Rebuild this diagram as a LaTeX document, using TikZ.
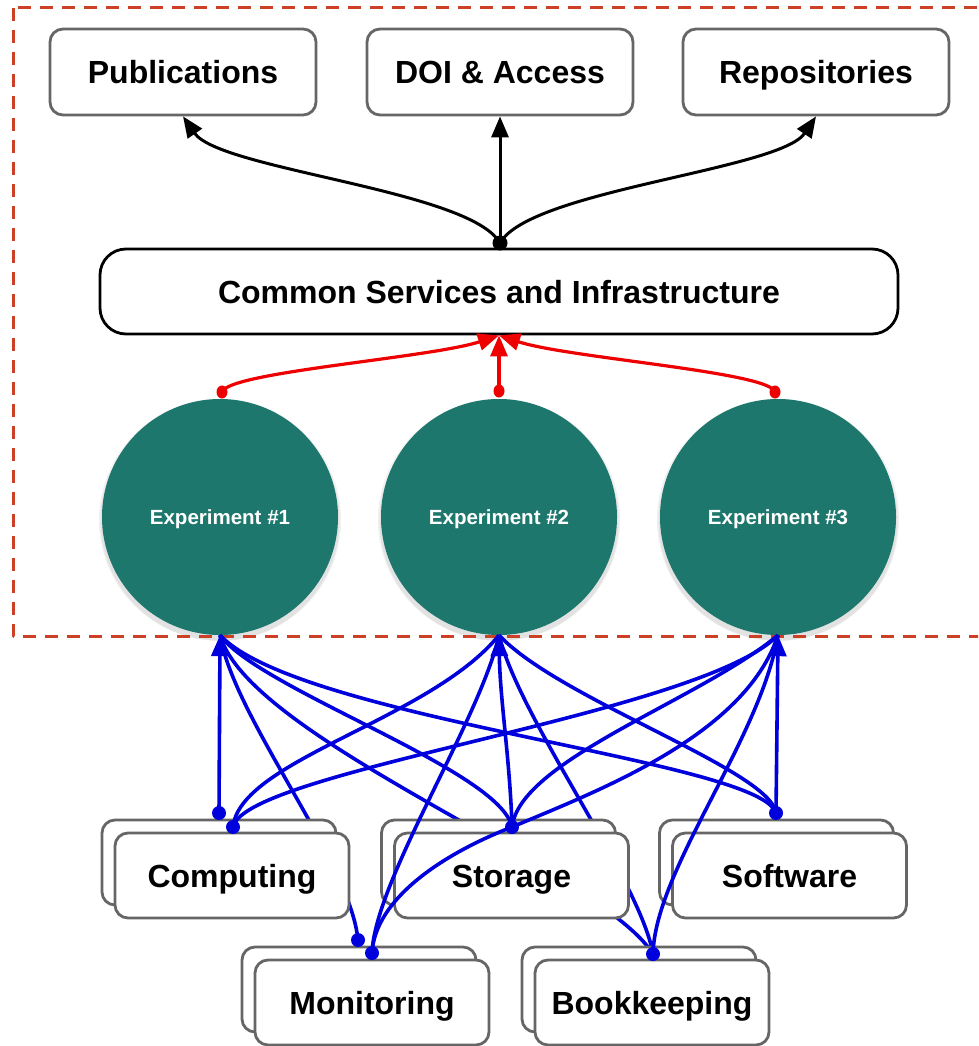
\documentclass[tikz,border=0pt]{standalone}
\usepackage{fontspec}
\setsansfont{Liberation Sans}
\usetikzlibrary{arrows.meta}
\definecolor{framered}{HTML}{CC4125}
\definecolor{boxgray}{HTML}{666666}
\definecolor{expteal}{HTML}{1E776D}
\definecolor{linkblue}{HTML}{0000DD}
\definecolor{linkred}{HTML}{EE0000}
\tikzset{
  outbox/.style={draw=boxgray, line width=2.8pt, rounded corners=13pt, fill=white,
    minimum width=266pt, minimum height=86pt, inner sep=0pt, text height=23pt, text depth=0pt,
    font=\sffamily\bfseries\fontsize{32}{38}\selectfont},
  unitbox/.style={outbox, minimum width=234pt, minimum height=85pt},
  corebox/.style={outbox, draw=black, rounded corners=26pt, minimum width=798pt, minimum height=85pt},
  expnode/.style={circle, fill=expteal, minimum size=236pt, inner sep=0pt, text=white,
    text height=15pt, text depth=0pt, font=\sffamily\bfseries\fontsize{20.5}{24}\selectfont},
  blueline/.style={draw=linkblue, line width=3.6pt},
  redline/.style={draw=linkred, line width=3.2pt},
  blackline/.style={draw=black, line width=3pt}
}
\begin{document}
\begin{tikzpicture}[x=1pt,y=-1pt,line join=round,>={Triangle[length=21pt,width=17pt]}]
\useasboundingbox (0,0) rectangle (978,1046);
\clip (0,0) rectangle (978,1046);

\foreach \nm/\x/\txt in {exp1/220/Experiment \#1, exp2/499/Experiment \#2, exp3/778/Experiment \#3}
{
\fill[black, opacity=0.06] (\x,520) circle (121pt);
\fill[black, opacity=0.06] (\x,521) circle (119.5pt);
\node[expnode] (\nm) at (\x,517) {\txt};
}
\draw[framered, line width=3pt, dash pattern=on 13pt off 9pt] (13,8) rectangle (1000,636);

\node[outbox] (pub) at (183,72) {Publications};
\node[outbox] (doi) at (500,72) {DOI \& Access};
\node[outbox] (repo) at (816,72) {Repositories};
\node[corebox] (common) at (499,291.5) {Common Services and Infrastructure};

\coordinate (hub) at (500,243);
\draw[blackline,->] (hub) .. controls (470,190) and (220,170) .. (pub.south);
\draw[blackline,->] (hub) -- (doi.south);
\draw[blackline,->] (hub) .. controls (530,190) and (780,170) .. (repo.south);
\fill (hub) circle (7.5pt);

\coordinate (r1) at (222,392);
\coordinate (r2) at (499,391);
\coordinate (r3) at (775,392);
\draw[redline,->] (r1) .. controls (228,372) and (430,358) .. (common.south);
\draw[redline,->] (r2) -- (common.south);
\draw[redline,->] (r3) .. controls (770,372) and (568,358) .. (common.south);
\foreach \p in {r1,r2,r3}
\fill[linkred] (\p) ellipse (5.5pt and 6.5pt);

\coordinate (c1) at (219,813);
\coordinate (c2) at (233,827);
\coordinate (st) at (512,827);
\coordinate (sw) at (776,813);
\coordinate (m1) at (358,940);
\coordinate (m2) at (372,953);
\coordinate (bk) at (653,954);

\draw[blueline] (m1) .. controls (350,860) and (235,720) .. (exp1.south);
\draw[blueline] (bk) .. controls (600,870) and (250,740) .. (exp1.south);
\draw[blueline] (bk) .. controls (640,880) and (520,720) .. (exp2.south);

\foreach \nm/\x/\y/\txt in {comp/232/875.5/Computing, stor/511.5/875.5/Storage, soft/789.5/875.5/Software, moni/372/1002.5/Monitoring, book/652/1002.5/Bookkeeping}
{
\node[unitbox] (\nm back) at (\x-13,\y-13) {};
\node[unitbox] (\nm) at (\x,\y) {\txt};
}

\draw[blueline,->] (c1) -- (exp1.south);
\draw[blueline] (c2) .. controls (240,760) and (430,720) .. (exp2.south);
\draw[blueline] (c2) .. controls (245,770) and (700,715) .. (exp3.south);
\draw[blueline] (st) .. controls (500,770) and (260,690) .. (exp1.south);
\draw[blueline,->] (st) .. controls (510,760) and (500,700) .. (exp2.south);
\draw[blueline] (st) .. controls (520,760) and (700,700) .. (exp3.south);
\draw[blueline] (sw) .. controls (760,760) and (300,720) .. (exp1.south);
\draw[blueline] (sw) .. controls (770,770) and (560,700) .. (exp2.south);
\draw[blueline,->] (sw) -- (exp3.south);
\draw[blueline] (m2) .. controls (375,880) and (480,720) .. (exp2.south);
\draw[blueline] (m2) .. controls (375,900) and (440,855) .. (st) .. controls (600,790) and (745,735) .. (exp3.south);
\draw[blueline] (bk) .. controls (655,870) and (760,740) .. (exp3.south);
\foreach \p in {c1,c2,st,sw,m1,m2,bk}
\fill[linkblue] (\p) circle (7pt);

\end{tikzpicture}
\end{document}
